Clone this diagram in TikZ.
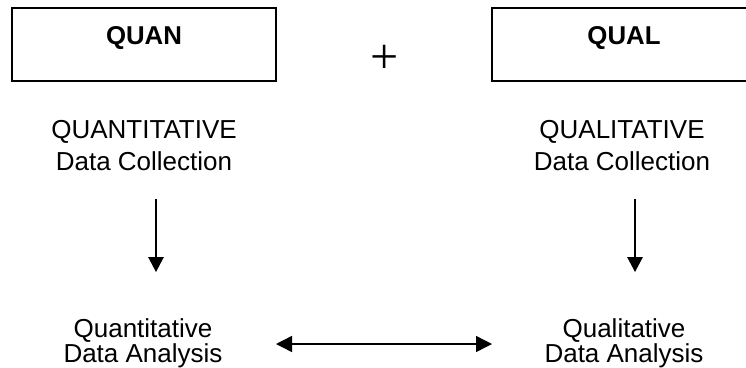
\documentclass[tikz,border=0pt]{standalone}
\usepackage{fontspec}
\setmainfont{Liberation Sans}
\newfontfamily\plusfont{Liberation Serif}
\usetikzlibrary{arrows.meta}

\begin{document}
\begin{tikzpicture}[x=1pt,y=1pt,
  methodbox/.style={draw,line width=1.6pt,minimum width=264pt,minimum height=73pt,
    inner sep=0pt,text height=18.5pt,text depth=18.5pt,
    font=\fontsize{25.8pt}{31pt}\selectfont\bfseries},
  txt/.style={anchor=base,inner sep=0pt,font=\fontsize{26pt}{31pt}\selectfont},
  flow/.style={line width=1.4pt,-{Triangle[length=15pt,width=15.5pt]}},
  both/.style={line width=1.4pt,{Triangle[length=16pt,width=16pt]}-{Triangle[length=16pt,width=16pt]}}]

  \useasboundingbox (0,0) rectangle (746,-367);
  \clip (0,0) rectangle (746,-367);

  % method boxes
  \node[methodbox] (quan) at (144,-44.5) {QUAN};
  \node[methodbox] (qual) at (624,-44.5) {QUAL};
  \node[inner sep=0pt,font=\fontsize{50pt}{50pt}\selectfont\plusfont] (plus) at (385,-59.5) {+};

  % data collection labels
  \node[txt] (qncoll1) at (144,-138) {QUANTITATIVE};
  \node[txt] (qncoll2) at (144,-170) {Data Collection};
  \node[txt] (qlcoll1) at (622,-138) {QUALITATIVE};
  \node[txt] (qlcoll2) at (622,-170) {Data Collection};

  % data analysis labels
  \node[txt] (qnan1) at (143,-337) {Quantitative};
  \node[txt] (qnan2) at (143,-362) {Data Analysis};
  \node[txt] (qlan1) at (624,-337) {Qualitative};
  \node[txt] (qlan2) at (624,-362) {Data Analysis};

  % arrow end points
  \coordinate (qnfrom) at (156,-199);
  \coordinate (qnto) at (156,-272);
  \coordinate (qlfrom) at (635,-199);
  \coordinate (qlto) at (635,-272);
  \coordinate (linkl) at (276,-344);
  \coordinate (linkr) at (492,-344);

  \draw[flow] (qnfrom) -- (qnto);
  \draw[flow] (qlfrom) -- (qlto);
  \draw[both] (linkl) -- (linkr);
\end{tikzpicture}
\end{document}
